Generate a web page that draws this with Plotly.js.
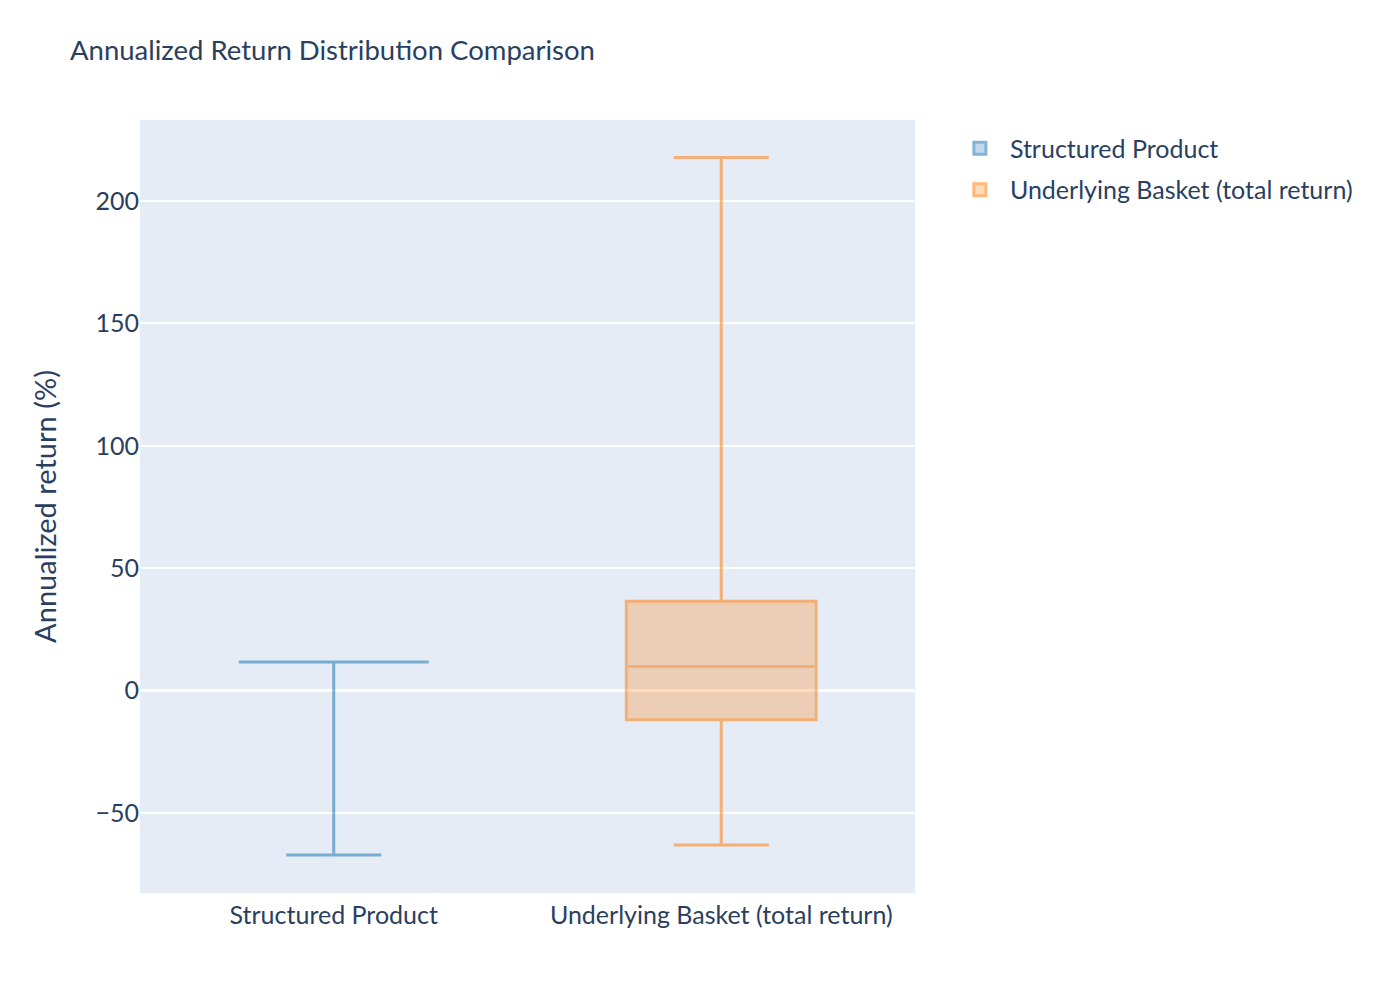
<!DOCTYPE html>
<html>
<head>
<meta charset="utf-8">
<script src="https://cdn.plot.ly/plotly-3.0.1.min.js"></script>
<style>html,body{margin:0;padding:0;background:#fff}#chart{width:1400px;height:1000px}</style>
</head>
<body>
<div id="chart"></div>
<script>
const categories = ["Structured Product", "Underlying Basket (total return)"];
const lowerFence = [-67.2, -63.1];
const q1Values = [11.7, -11.9];
const medianValues = [11.7, 9.8];
const q3Values = [11.7, 36.5];
const upperFence = [11.7, 217.8];
const colors = ["#1f77b4", "#ff7f0e"];

const traces = categories.map((c, i) => ({
  type: "box",
  name: c,
  x: [c],
  q1: [q1Values[i]],
  median: [medianValues[i]],
  q3: [q3Values[i]],
  lowerfence: [lowerFence[i]],
  upperfence: [upperFence[i]],
  marker: {color: colors[i]},
  line: {color: colors[i], width: 3},
  opacity: 0.55,
  legendgroup: "g" + i,
  boxpoints: false
}));

const layout = {
  width: 1400,
  height: 1000,
  font: {family: "Lato, 'Noto Sans', sans-serif", size: 25, color: "#2a3f5f"},
  title: {text: "Annualized Return Distribution Comparison", x: 0.05, xanchor: "left", y: 0.95, yanchor: "middle", font: {size: 27.5}},
  paper_bgcolor: "#ffffff",
  plot_bgcolor: "#e5ecf6",
  margin: {l: 140, r: 485, t: 120, b: 107},
  showlegend: true,
  legend: {x: 1.045, y: 0.993, yanchor: "top", itemwidth: 50, tracegroupgap: 6, font: {size: 25}},
  xaxis: {type: "category", showgrid: false, linecolor: "#ffffff", ticks: "", automargin: false},
  yaxis: {
    title: {text: "Annualized return (%)", font: {size: 29}, standoff: 30},
    range: [-82.7, 233.1],
    gridcolor: "#ffffff", gridwidth: 2,
    zeroline: true, zerolinecolor: "#ffffff", zerolinewidth: 3,
    tickvals: [-50, 0, 50, 100, 150, 200],
    automargin: false
  }
};

Plotly.newPlot("chart", traces, layout, {displayModeBar: false});
</script>
</body>
</html>
